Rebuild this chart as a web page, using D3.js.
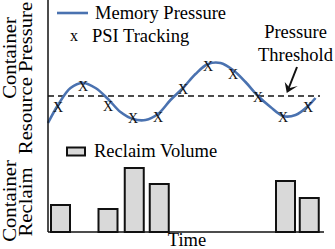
<!DOCTYPE html>
<html>
<head>
<meta charset="utf-8">
<script src="https://cdn.jsdelivr.net/npm/d3@7"></script>
<style>
  html, body { margin: 0; padding: 0; background: #fff; }
  text { font-family: "Liberation Serif", "Times New Roman", "DejaVu Serif", serif; }
</style>
</head>
<body>
<div id="chart"></div>
<script>
// ------------------------------ DATA ------------------------------
// memory pressure curve (time, pressure)
var curveTimes  = [0.6, 1, 1.5, 2, 2.5, 3, 3.5, 4, 4.5, 5, 5.5, 6, 6.5, 7, 7.5, 8, 8.5, 9, 9.5, 10, 10.5, 11, 11.3];
var curveValues = [7, 25, 42, 47, 42, 31, 18, 11, 10, 16, 30, 42, 56, 66, 67, 60, 48, 34, 23, 14, 15, 24, 32];

// PSI tracking samples
var psiTimes  = [1, 2, 3, 4, 5, 6, 7, 8, 9, 10, 11];
var psiValues = [23, 44, 24, 12, 13, 41, 64, 56, 33, 13, 23];

var threshold = 34;

// reclaim volume bars
var reclaimTimes  = [1.1, 3, 4.05, 5.05, 10.1, 11.05];
var reclaimValues = [27, 23, 64, 48, 51, 34];

var legendLabels = ["Memory Pressure", "PSI Tracking", "Reclaim Volume"];

// ------------------------------ CONFIG ------------------------------
var width = 335, height = 249,
    axisX = 48, axisY = 232, axisRight = 324,
    serif = "'Liberation Serif', 'Times New Roman', 'DejaVu Serif', serif",
    fontSize = "18.5px",
    lineColor = "#4a72b0",
    barFill = "#d9d9d9";

var x = d3.scaleLinear().domain([0.6, 11.64]).range([axisX, axisRight]);
var yP = d3.scaleLinear().domain([0, 100]).range([130, 30]);
var yR = d3.scaleLinear().domain([0, 100]).range([axisY, 132]);

var svg = d3.select("#chart").append("svg")
    .attr("width", width)
    .attr("height", height)
    .attr("font-family", serif);

// ------------------------------ UPPER PANEL ------------------------------
// threshold
svg.append("line")
    .attr("x1", axisX).attr("x2", 320)
    .attr("y1", yP(threshold)).attr("y2", yP(threshold))
    .attr("stroke", "#111")
    .attr("stroke-width", 1.5)
    .attr("stroke-dasharray", "6,4");

var line = d3.line()
    .x(function (d) {return x(d[0]);})
    .y(function (d) {return yP(d[1]);})
    .curve(d3.curveCatmullRom);

svg.append("path")
    .datum(d3.zip(curveTimes, curveValues))
    .attr("d", line)
    .attr("fill", "none")
    .attr("stroke", lineColor)
    .attr("stroke-width", 2.6);

svg.selectAll("text.psi")
    .data(d3.zip(psiTimes, psiValues))
    .enter()
    .append("text")
    .attr("class", "psi")
    .attr("x", function (d) {return x(d[0]);})
    .attr("y", function (d) {return yP(d[1]) + 5;})
    .attr("text-anchor", "middle")
    .attr("font-size", "14px")
    .attr("fill", "#111")
    .text("X");

// threshold annotation
svg.append("text")
    .attr("x", 295.5).attr("y", 38)
    .attr("text-anchor", "middle")
    .attr("font-size", fontSize)
    .text("Pressure");
svg.append("text")
    .attr("x", 295.5).attr("y", 61)
    .attr("text-anchor", "middle")
    .attr("font-size", fontSize)
    .text("Threshold");

var tipX = x(10.15), tipY = yP(threshold) - 3;
svg.append("line")
    .attr("x1", 297).attr("y1", 67)
    .attr("x2", tipX + 2).attr("y2", tipY - 5)
    .attr("stroke", "#111")
    .attr("stroke-width", 2);
svg.append("path")
    .attr("d", "M" + tipX + "," + tipY + " L" + (tipX - 2) + "," + (tipY - 11) +
               " L" + (tipX + 3) + "," + (tipY - 5) + " L" + (tipX + 11) + "," + (tipY - 7) + " Z")
    .attr("fill", "#111");

// legend
svg.append("line")
    .attr("x1", 57).attr("x2", 88)
    .attr("y1", 13).attr("y2", 13)
    .attr("stroke", lineColor)
    .attr("stroke-width", 2.6);
svg.append("text")
    .attr("x", 95).attr("y", 19)
    .attr("font-size", fontSize)
    .text(legendLabels[0]);
svg.append("text")
    .attr("x", 74).attr("y", 41)
    .attr("text-anchor", "middle")
    .attr("font-size", "16px")
    .text("x");
svg.append("text")
    .attr("x", 92).attr("y", 42)
    .attr("font-size", fontSize)
    .text(legendLabels[1]);

// ------------------------------ LOWER PANEL ------------------------------
var barW = 19;
svg.selectAll("rect.bar")
    .data(d3.zip(reclaimTimes, reclaimValues))
    .enter()
    .append("rect")
    .attr("class", "bar")
    .attr("x", function (d) {return x(d[0]) - barW / 2;})
    .attr("y", function (d) {return yR(d[1]);})
    .attr("width", barW)
    .attr("height", function (d) {return axisY - yR(d[1]);})
    .attr("fill", barFill)
    .attr("stroke", "#111")
    .attr("stroke-width", 2);

svg.append("rect")
    .attr("x", 67).attr("y", 147.5)
    .attr("width", 18).attr("height", 8)
    .attr("fill", barFill)
    .attr("stroke", "#111")
    .attr("stroke-width", 2);
svg.append("text")
    .attr("x", 94).attr("y", 157)
    .attr("font-size", fontSize)
    .text(legendLabels[2]);

// ------------------------------ AXES ------------------------------
svg.append("line")
    .attr("x1", axisX).attr("x2", axisX)
    .attr("y1", 0).attr("y2", axisY)
    .attr("stroke", "#111").attr("stroke-width", 1.5);
svg.append("line")
    .attr("x1", axisX).attr("x2", axisRight)
    .attr("y1", axisY).attr("y2", axisY)
    .attr("stroke", "#111").attr("stroke-width", 1.5);

svg.append("text")
    .attr("x", 187).attr("y", 246)
    .attr("text-anchor", "middle")
    .attr("font-size", fontSize)
    .text("Time");

// rotated labels look stretched along the text in the picture
function yLabel(cx, cy, txt) {
    svg.append("text")
        .attr("transform", "translate(" + cx + "," + cy + ") rotate(-90) scale(1.12,1)")
        .attr("text-anchor", "middle")
        .attr("font-size", fontSize)
        .text(txt);
}
yLabel(16, 58, "Container");
yLabel(32, 78, "Resource Pressure");
yLabel(16, 201, "Container");
yLabel(32, 202, "Reclaim");
</script>
</body>
</html>
